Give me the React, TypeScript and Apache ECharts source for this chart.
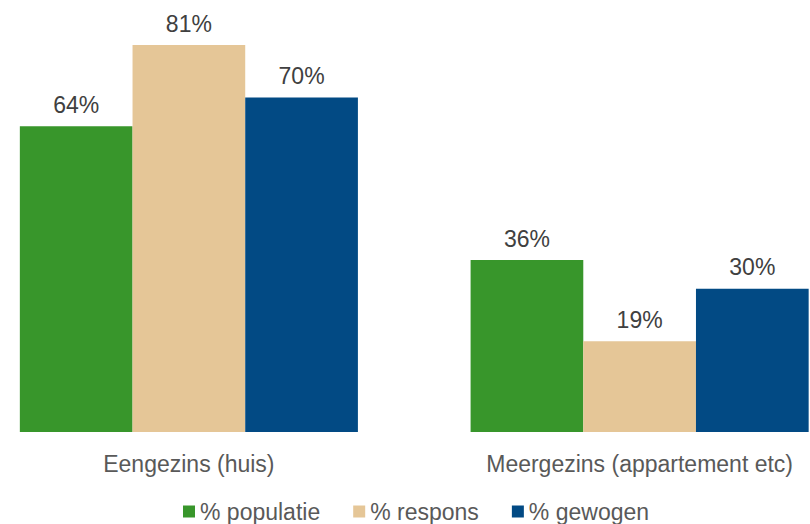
import React, { useEffect, useRef } from "react";
import * as echarts from "echarts";

const categories = ["Eengezins (huis)", "Meergezins (appartement etc)"];
const seriesNames = ["% populatie", "% respons", "% gewogen"];
const populatie = [64, 36];
const respons = [81, 19];
const gewogen = [70, 30];
const colors = ["#38962B", "#E5C697", "#024A84"];

export default function App() {
  const ref = useRef<HTMLDivElement>(null);
  useEffect(() => {
    if (!ref.current) return;
    const chart = echarts.init(ref.current, null, { renderer: "svg" });
    const font = "Liberation Sans, Arial, sans-serif";
    const values = [populatie, respons, gewogen];
    chart.setOption({
      animation: false,
      color: colors,
      textStyle: { fontFamily: font },
      grid: { left: 0.5, right: 0, top: 2, bottom: 92, containLabel: false },
      legend: {
        left: 220,
        top: 500,
        padding: 0,
        itemWidth: 12,
        itemHeight: 12,
        itemGap: 33,
        icon: "rect",
        textStyle: { fontSize: 23, color: "#595959", fontFamily: font },
        data: seriesNames,
      },
      xAxis: {
        type: "category",
        data: categories,
        axisLine: { show: false },
        axisTick: { show: false },
        axisLabel: { fontSize: 23, color: "#595959", margin: 20, fontFamily: font },
      },
      yAxis: {
        type: "value",
        min: 0,
        max: 90,
        show: false,
        splitLine: { show: false },
      },
      series: seriesNames.map((name, i) => ({
        name,
        type: "bar",
        data: values[i],
        barGap: "0%",
        barCategoryGap: "25%",
        itemStyle: { color: colors[i] },
        label: {
          show: true,
          position: "top",
          distance: 10,
          formatter: "{c}%",
          fontSize: 23,
          color: "#404040",
          fontFamily: font,
        },
      })),
    });
    return () => chart.dispose();
  }, []);
  return (
    <div
      style={{
        position: "absolute",
        left: 0,
        top: 0,
        width: 810,
        height: 524,
        overflow: "hidden",
      }}
    >
      <div
        ref={ref}
        style={{ position: "absolute", left: -37, top: 0, width: 902, height: 524 }}
      />
    </div>
  );
}
